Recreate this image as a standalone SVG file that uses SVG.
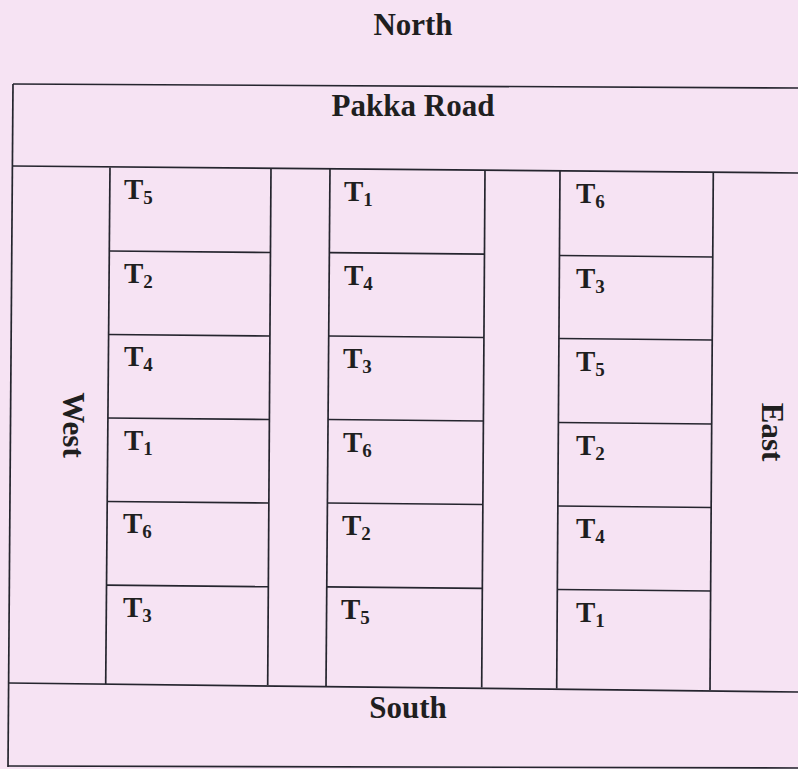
<svg xmlns="http://www.w3.org/2000/svg" width="798" height="769" viewBox="0 0 798 769">
<style>
  .bg { fill: #f6e3f3; }
  .ln { stroke: #25252e; stroke-width: 1.7; fill: none; }
  .hd { font-family: "Liberation Serif", "Times New Roman", serif; font-weight: bold; font-size: 31px; fill: #1f1f1f; }
  .t { font-family: "Liberation Serif", "Times New Roman", serif; font-weight: bold; font-size: 29px; fill: #1f1f1f; }
  .s { font-size: 19px; }
</style>
<rect class="bg" x="0" y="0" width="798" height="769"/>

<g id="labels">
  <text class="hd" x="413" y="35" text-anchor="middle">North</text>
  <text class="hd" x="413" y="116" text-anchor="middle">Pakka Road</text>
  <text class="hd" x="408" y="718" text-anchor="middle">South</text>
  <text class="hd" transform="translate(73,425) rotate(90)" text-anchor="middle" dominant-baseline="central">West</text>
  <text class="hd" transform="translate(772,432) rotate(90)" text-anchor="middle" dominant-baseline="central">East</text>
</g>

<g id="field-frame">
  <line class="ln" x1="13" y1="84" x2="798" y2="88"/>
  <line class="ln" x1="13" y1="84" x2="8" y2="767"/>
  <line class="ln" x1="13" y1="166" x2="798" y2="173"/>
  <line class="ln" x1="9" y1="683" x2="798" y2="692"/>
  <line class="ln" x1="8" y1="766" x2="798" y2="768"/>
</g>

<g id="column-1">
  <line class="ln" x1="110" y1="167.5" x2="105.7" y2="684"/>
  <line class="ln" x1="271" y1="168" x2="267.7" y2="685"/>
  <line class="ln" x1="109.4" y1="251" x2="270.6" y2="252.5"/>
  <line class="ln" x1="108.7" y1="334.5" x2="270" y2="336"/>
  <line class="ln" x1="108" y1="418" x2="269.4" y2="419.5"/>
  <line class="ln" x1="107.3" y1="501.5" x2="268.8" y2="503"/>
  <line class="ln" x1="106.6" y1="585.2" x2="268.2" y2="586.7"/>
</g>
<g id="column-2">
  <line class="ln" x1="330" y1="168.5" x2="326" y2="686"/>
  <line class="ln" x1="485" y1="170" x2="481.7" y2="687.5"/>
  <line class="ln" x1="329.4" y1="252.7" x2="484.5" y2="254.2"/>
  <line class="ln" x1="328.8" y1="336" x2="484" y2="337.5"/>
  <line class="ln" x1="328.1" y1="419.5" x2="483.4" y2="421"/>
  <line class="ln" x1="327.5" y1="503" x2="482.8" y2="504.5"/>
  <line class="ln" x1="326.8" y1="586.8" x2="482.3" y2="588.3"/>
</g>
<g id="column-3">
  <line class="ln" x1="560" y1="170.5" x2="556.7" y2="688.5"/>
  <line class="ln" x1="713.3" y1="172" x2="710" y2="690"/>
  <line class="ln" x1="559.5" y1="255.5" x2="712.8" y2="257"/>
  <line class="ln" x1="558.9" y1="338.5" x2="712.3" y2="340"/>
  <line class="ln" x1="558.4" y1="422.5" x2="711.7" y2="424"/>
  <line class="ln" x1="557.9" y1="506" x2="711.2" y2="507.5"/>
  <line class="ln" x1="557.3" y1="589.5" x2="710.7" y2="591"/>
</g>

<g id="plots-col1">
  <g id="c1r1"><text class="t" x="124" y="199">T<tspan class="s" dy="5">5</tspan></text></g>
  <g id="c1r2"><text class="t" x="124" y="283">T<tspan class="s" dy="5">2</tspan></text></g>
  <g id="c1r3"><text class="t" x="124" y="366">T<tspan class="s" dy="5">4</tspan></text></g>
  <g id="c1r4"><text class="t" x="124" y="450">T<tspan class="s" dy="5">1</tspan></text></g>
  <g id="c1r5"><text class="t" x="123" y="533">T<tspan class="s" dy="5">6</tspan></text></g>
  <g id="c1r6"><text class="t" x="123" y="617">T<tspan class="s" dy="5">3</tspan></text></g>
</g>
<g id="plots-col2">
  <g id="c2r1"><text class="t" x="344" y="201">T<tspan class="s" dy="5">1</tspan></text></g>
  <g id="c2r2"><text class="t" x="344" y="285">T<tspan class="s" dy="5">4</tspan></text></g>
  <g id="c2r3"><text class="t" x="343" y="368">T<tspan class="s" dy="5">3</tspan></text></g>
  <g id="c2r4"><text class="t" x="343" y="452">T<tspan class="s" dy="5">6</tspan></text></g>
  <g id="c2r5"><text class="t" x="342" y="535">T<tspan class="s" dy="5">2</tspan></text></g>
  <g id="c2r6"><text class="t" x="341" y="619">T<tspan class="s" dy="5">5</tspan></text></g>
</g>
<g id="plots-col3">
  <g id="c3r1"><text class="t" x="576" y="203">T<tspan class="s" dy="5">6</tspan></text></g>
  <g id="c3r2"><text class="t" x="576" y="288">T<tspan class="s" dy="5">3</tspan></text></g>
  <g id="c3r3"><text class="t" x="576" y="371">T<tspan class="s" dy="5">5</tspan></text></g>
  <g id="c3r4"><text class="t" x="576" y="455">T<tspan class="s" dy="5">2</tspan></text></g>
  <g id="c3r5"><text class="t" x="576" y="538">T<tspan class="s" dy="5">4</tspan></text></g>
  <g id="c3r6"><text class="t" x="576" y="622">T<tspan class="s" dy="5">1</tspan></text></g>
</g>
</svg>
